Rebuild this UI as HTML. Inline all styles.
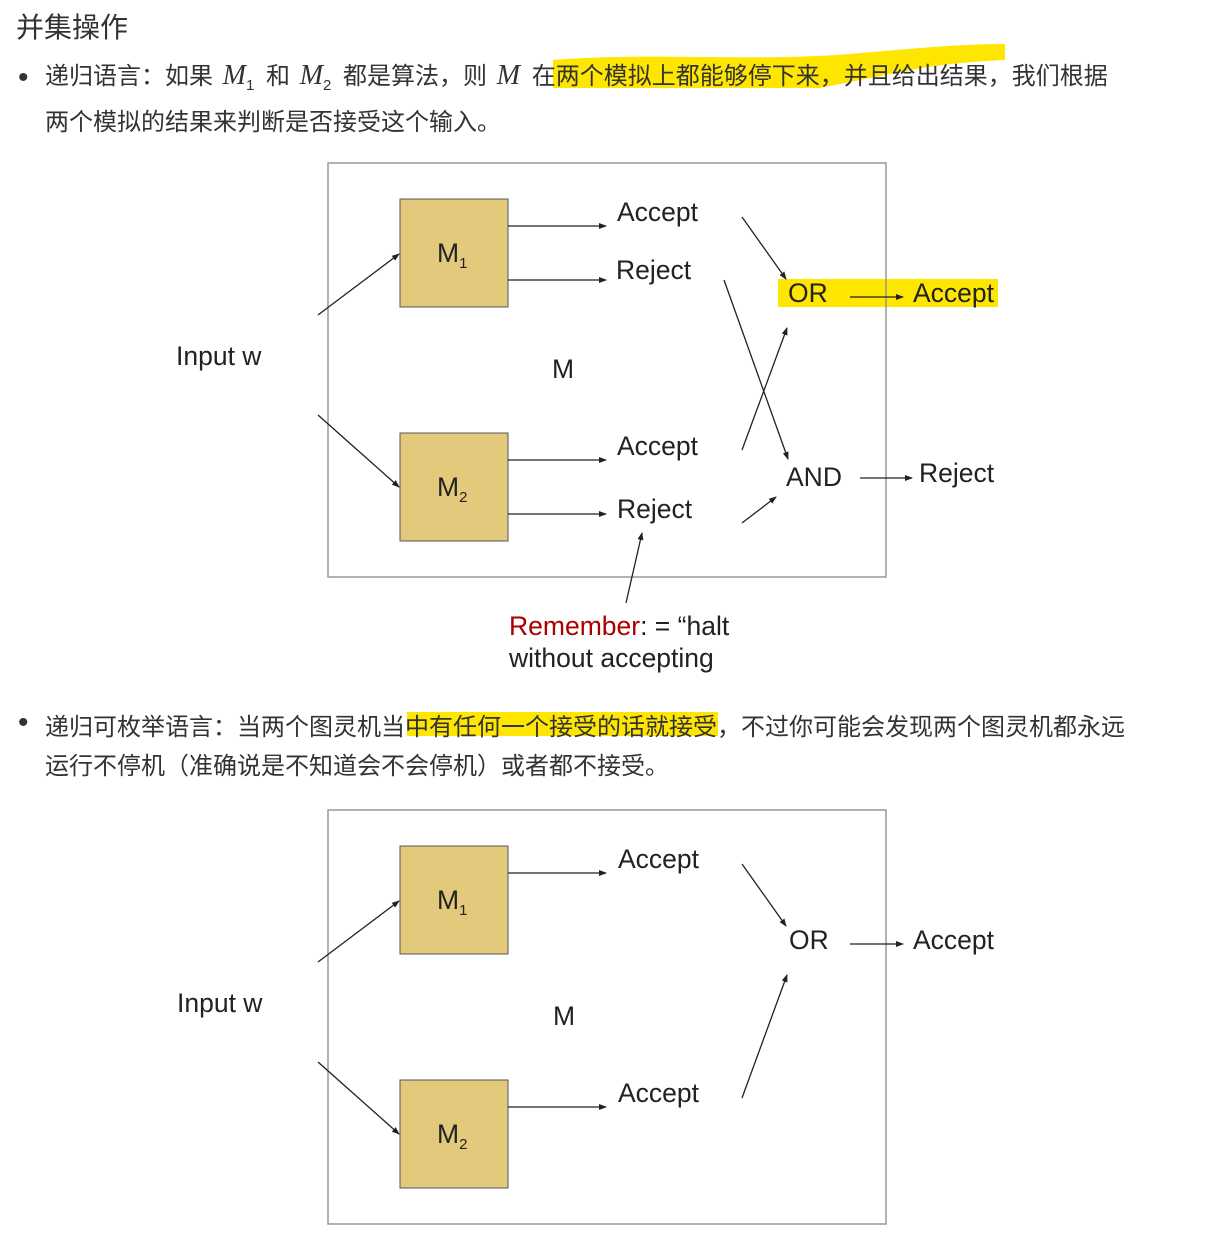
<!DOCTYPE html>
<html><head><meta charset="utf-8"><style>
body{margin:0;width:1210px;height:1251px;background:#fff;position:relative;overflow:hidden;font-family:"Liberation Sans","Noto Sans CJK SC",sans-serif;color:#333}
.t{position:absolute;white-space:nowrap}
svg{position:absolute;left:0;top:0}
i.m{font-family:"Liberation Serif",serif;font-size:28px;margin-left:3px}
sub{font-size:15px;margin-right:5px}
</style></head><body>
<svg width="1210" height="1251">
<defs><marker id="a" markerWidth="8" markerHeight="8" refX="7" refY="4" orient="auto" markerUnits="userSpaceOnUse"><path d="M0,1 L8,4 L0,7z" fill="#222"/></marker></defs>
<path d="M553,60 C650,52 750,62 850,54 C920,48 960,44 1005,44 L1005,60 C960,62 930,66 900,72 L820,88 L553,88z" fill="#ffe600"/>
<path d="M407,712 L718,712 L718,736 L407,736z" fill="#ffe600"/>
<rect x="778" y="279" width="220" height="28" fill="#ffe600"/>
<g fill="none" stroke="#999" stroke-width="1.5"><rect x="328" y="163" width="558" height="414"/><rect x="328" y="810" width="558" height="414"/></g>
<g fill="#e3c97b" stroke="#555"><rect x="400" y="199" width="108" height="108"/><rect x="400" y="433" width="108" height="108"/><rect x="400" y="846" width="108" height="108"/><rect x="400" y="1080" width="108" height="108"/></g>
<g stroke="#222" stroke-width="1.3" marker-end="url(#a)">
<line x1="508" y1="226" x2="606" y2="226"/><line x1="508" y1="280" x2="606" y2="280"/>
<line x1="508" y1="460" x2="606" y2="460"/><line x1="508" y1="514" x2="606" y2="514"/>
<line x1="318" y1="315" x2="399" y2="254"/><line x1="318" y1="415" x2="399" y2="487"/>
<line x1="742" y1="217" x2="786" y2="279"/><line x1="724" y1="280" x2="788" y2="459"/>
<line x1="742" y1="450" x2="787" y2="328"/><line x1="742" y1="523" x2="776" y2="497"/>
<line x1="850" y1="297" x2="903" y2="297"/><line x1="860" y1="478" x2="912" y2="478"/>
<line x1="626" y1="603" x2="642" y2="533"/>
<line x1="508" y1="873" x2="606" y2="873"/><line x1="508" y1="1107" x2="606" y2="1107"/>
<line x1="318" y1="962" x2="399" y2="901"/><line x1="318" y1="1062" x2="399" y2="1134"/>
<line x1="742" y1="864" x2="786" y2="926"/><line x1="742" y1="1098" x2="787" y2="975"/>
<line x1="850" y1="944" x2="903" y2="944"/>
</g>
<g font-family="Liberation Sans,sans-serif" font-size="26.5" fill="#222">
<text x="437" y="262">M<tspan font-size="15" dy="6">1</tspan></text>
<text x="437" y="496">M<tspan font-size="15" dy="6">2</tspan></text>
<text x="437" y="909">M<tspan font-size="15" dy="6">1</tspan></text>
<text x="437" y="1143">M<tspan font-size="15" dy="6">2</tspan></text>
<text x="617" y="221">Accept</text><text x="616" y="279">Reject</text>
<text x="617" y="455">Accept</text><text x="617" y="518">Reject</text>
<text x="788" y="302">OR</text><text x="913" y="302">Accept</text>
<text x="786" y="486">AND</text><text x="919" y="482">Reject</text>
<text x="176" y="365">Input w</text><text x="552" y="378">M</text>
<text x="509" y="635"><tspan fill="#a00">Remember</tspan>: =  “halt</text>
<text x="509" y="667">without accepting</text>
<text x="618" y="868">Accept</text><text x="618" y="1102">Accept</text>
<text x="789" y="949">OR</text><text x="913" y="949">Accept</text>
<text x="177" y="1012">Input w</text><text x="553" y="1025">M</text>
</g>
</svg>
<div class="t" style="left:16px;top:6px;font-size:28px">并集操作</div>
<div class="t" style="left:18px;top:61px;font-size:30px">•</div>
<div class="t" style="left:45px;top:60px;font-size:24px;line-height:32px">递归语言：如果 <i class="m">M</i><sub>1</sub> 和 <i class="m">M</i><sub>2</sub> 都是算法，则 <i class="m" style="margin-right:5px">M</i> 在两个模拟上都能够停下来，并且给出结果，我们根据</div>
<div class="t" style="left:45px;top:102px;font-size:24px">两个模拟的结果来判断是否接受这个输入。</div>
<div class="t" style="left:18px;top:706px;font-size:30px">•</div>
<div class="t" style="left:45px;top:707px;font-size:24px">递归可枚举语言：当两个图灵机当中有任何一个接受的话就接受，不过你可能会发现两个图灵机都永远</div>
<div class="t" style="left:45px;top:746px;font-size:24px">运行不停机（准确说是不知道会不会停机）或者都不接受。</div>
</body></html>
